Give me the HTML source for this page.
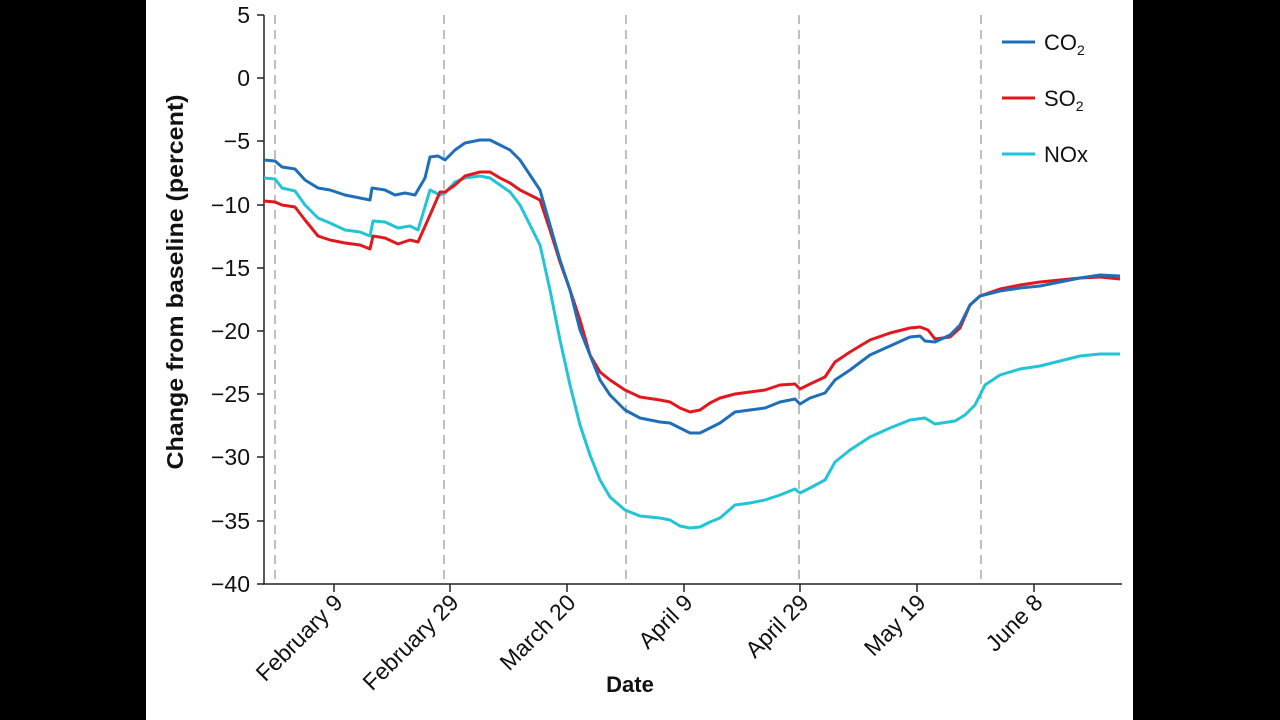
<!DOCTYPE html>
<html><head><style>
body{margin:0;background:#000;}
svg{display:block;font-family:"Liberation Sans",sans-serif;}
</style></head><body>
<svg width="1280" height="720" viewBox="0 0 1280 720">
<rect x="0" y="0" width="1280" height="720" fill="#000"/>
<rect x="146" y="0" width="987" height="720" fill="#fff"/>
<g stroke="#aaa" stroke-width="1.5" stroke-dasharray="9,6">
<line x1="275" y1="15" x2="275" y2="583"/><line x1="444" y1="15" x2="444" y2="583"/>
<line x1="626" y1="15" x2="626" y2="583"/><line x1="799" y1="15" x2="799" y2="583"/>
<line x1="981" y1="15" x2="981" y2="583"/>
</g>
<g stroke="#222" stroke-width="1.5">
<line x1="264" y1="15" x2="264" y2="584"/><line x1="263" y1="584" x2="1122" y2="584"/>
<line x1="257" y1="15" x2="264" y2="15"/><line x1="257" y1="78" x2="264" y2="78"/>
<line x1="257" y1="141" x2="264" y2="141"/><line x1="257" y1="205" x2="264" y2="205"/>
<line x1="257" y1="268" x2="264" y2="268"/><line x1="257" y1="331" x2="264" y2="331"/>
<line x1="257" y1="394" x2="264" y2="394"/><line x1="257" y1="457" x2="264" y2="457"/>
<line x1="257" y1="521" x2="264" y2="521"/><line x1="257" y1="584" x2="264" y2="584"/>
<line x1="334" y1="584" x2="334" y2="592"/><line x1="450" y1="584" x2="450" y2="592"/>
<line x1="567" y1="584" x2="567" y2="592"/><line x1="684" y1="584" x2="684" y2="592"/>
<line x1="800" y1="584" x2="800" y2="592"/><line x1="917" y1="584" x2="917" y2="592"/>
<line x1="1034" y1="584" x2="1034" y2="592"/>
</g>
<g font-size="23" text-anchor="end" fill="#111">
<text x="250" y="23">5</text><text x="250" y="86">0</text><text x="250" y="149">−5</text>
<text x="250" y="213">−10</text><text x="250" y="276">−15</text><text x="250" y="339">−20</text>
<text x="250" y="402">−25</text><text x="250" y="465">−30</text><text x="250" y="529">−35</text>
<text x="250" y="592">−40</text>
<text transform="translate(344,604) rotate(-45)">February 9</text>
<text transform="translate(460,604) rotate(-45)">February 29</text>
<text transform="translate(577,604) rotate(-45)">March 20</text>
<text transform="translate(694,604) rotate(-45)">April 9</text>
<text transform="translate(810,604) rotate(-45)">April 29</text>
<text transform="translate(927,604) rotate(-45)">May 19</text>
<text transform="translate(1044,604) rotate(-45)">June 8</text>
</g>
<text x="630" y="692" font-size="22" font-weight="bold" text-anchor="middle" fill="#111">Date</text>
<text transform="translate(183,282) rotate(-90)" font-size="23" font-weight="bold" text-anchor="middle" fill="#111" textLength="375" lengthAdjust="spacingAndGlyphs">Change from baseline (percent)</text>
<g fill="none" stroke-width="3" stroke-linejoin="round">
<polyline stroke="#22c4d6" points="264,178 275,179 282,188 295,191 305,205 318,218 330,223 345,230 360,232 370,236 373,221 385,222 398,228 410,226 418,230 430,190 440,195 445,193 455,182 465,178 480,176 490,178 500,185 510,192 520,205 530,225 540,245 550,290 560,340 570,385 580,425 590,455 600,480 610,497 625,510 640,516 660,518 670,520 680,526 690,528 700,527 710,522 720,518 735,505 750,503 765,500 780,495 795,489 800,493 810,488 825,480 835,462 850,450 870,437 890,428 910,420 925,418 935,424 955,421 965,415 975,405 985,385 1000,375 1020,369 1040,366 1060,361 1080,356 1100,354 1120,354"/>
<polyline stroke="#e0191e" points="264,201 275,202 282,205 295,207 305,220 318,236 330,240 345,243 360,245 370,249 373,236 385,238 398,244 410,240 418,242 430,215 440,192 445,192 455,185 465,176 480,172 490,172 500,178 510,183 520,190 530,195 540,200 550,230 560,262 570,290 580,320 590,355 600,372 610,380 625,390 640,397 660,400 670,402 680,408 690,412 700,410 710,403 720,398 735,394 750,392 765,390 780,385 795,384 800,389 810,384 825,377 835,362 850,352 870,340 890,333 910,328 920,327 928,330 935,339 950,337 960,328 970,305 980,296 1000,289 1020,285 1040,282 1060,280 1080,278 1100,277 1120,279"/>
<polyline stroke="#1f6fb8" points="264,160 275,161 282,167 295,169 305,180 318,188 330,190 345,195 360,198 370,200 372,188 385,190 395,195 405,193 415,195 425,178 430,157 438,156 445,160 455,150 465,143 480,140 490,140 500,145 510,150 520,160 530,175 540,190 550,225 560,260 570,290 580,330 590,355 600,380 610,395 625,410 640,418 660,422 670,423 680,428 690,433 700,433 710,428 720,423 735,412 750,410 765,408 780,402 795,399 800,404 810,398 825,393 835,380 850,370 870,355 890,346 910,337 920,336 925,341 935,342 950,335 960,325 970,305 980,296 1000,291 1020,288 1040,286 1060,282 1080,278 1100,275 1120,276"/>
<line x1="1002" y1="42" x2="1035" y2="42" stroke="#1f6fb8"/>
<line x1="1002" y1="98" x2="1035" y2="98" stroke="#e0191e"/>
<line x1="1002" y1="154" x2="1035" y2="154" stroke="#22c4d6"/>
</g>
<g font-size="22" fill="#111">
<text x="1044" y="50">CO<tspan font-size="14" dy="5">2</tspan></text>
<text x="1044" y="106">SO<tspan font-size="14" dy="5">2</tspan></text>
<text x="1044" y="162">NOx</text>
</g>
</svg>
</body></html>
